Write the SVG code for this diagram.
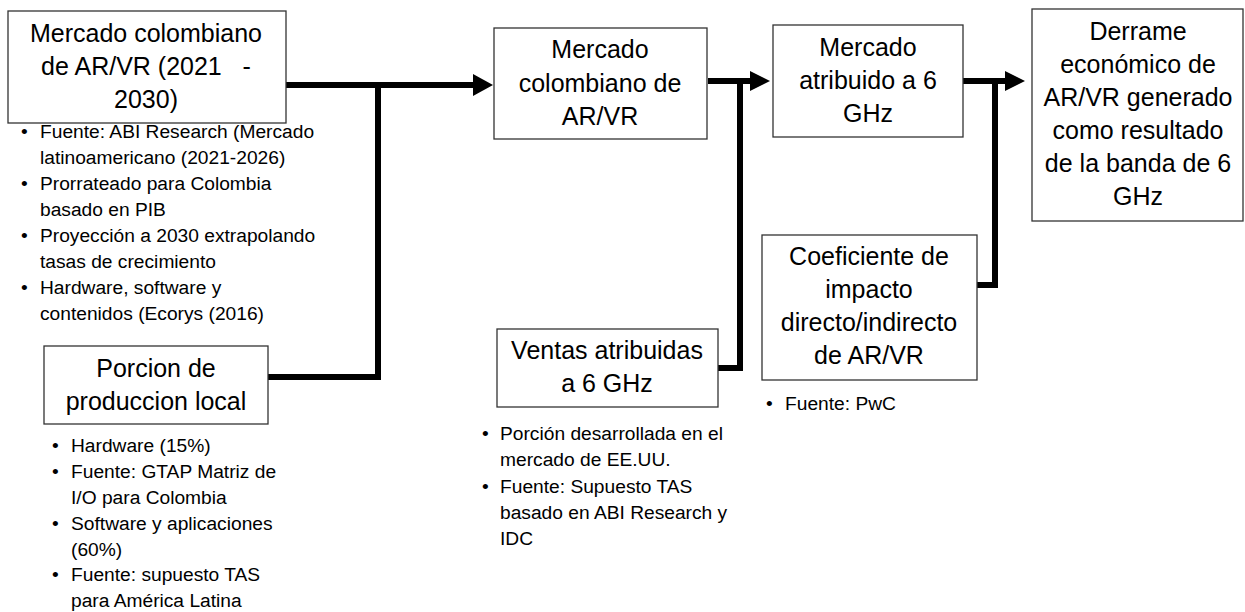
<svg xmlns="http://www.w3.org/2000/svg" width="1245" height="612" viewBox="0 0 1245 612">
<style>
.box{fill:#fff;stroke:#333;stroke-width:1.3}
.t{font-family:"Liberation Sans",Arial,sans-serif;font-size:25px;fill:#000;text-anchor:middle}
.b{font-family:"Liberation Sans",Arial,sans-serif;font-size:19.2px;fill:#000}
.c{fill:none;stroke:#000;stroke-width:6;stroke-linejoin:miter}
.h{fill:#000}
</style>
<rect width="1245" height="612" fill="#fff"/>
<g id="connectors">
<path class="c" d="M286 85H475"/>
<path class="c" d="M268 377H378V85"/>
<polygon class="h" points="473,74 493,85 473,96"/>
<path class="c" d="M708 81H752"/>
<path class="c" d="M718 368H740V81"/>
<polygon class="h" points="750,71 770,81 750,91"/>
<path class="c" d="M963 81H1007"/>
<path class="c" d="M977 285H995V81"/>
<polygon class="h" points="1005,71 1025,81 1005,91"/>
</g>
<g id="n1">
<rect class="box" x="8" y="11" width="278" height="112"/>
<text class="t" x="146" y="42">Mercado colombiano</text>
<text class="t" x="146" y="75">de AR/VR (2021&#160;&#160;&#160;-</text>
<text class="t" x="146" y="108">2030)</text>
<g class="b">
<text x="21" y="138">•</text><text x="40" y="138">Fuente: ABI Research (Mercado</text>
<text x="40" y="164">latinoamericano (2021-2026)</text>
<text x="21" y="190">•</text><text x="40" y="190">Prorrateado para Colombia</text>
<text x="40" y="216">basado en PIB</text>
<text x="21" y="242">•</text><text x="40" y="242">Proyección a 2030 extrapolando</text>
<text x="40" y="268">tasas de crecimiento</text>
<text x="21" y="294">•</text><text x="40" y="294">Hardware, software y</text>
<text x="40" y="320">contenidos (Ecorys (2016)</text>
</g>
</g>
<g id="n2">
<rect class="box" x="44" y="346" width="224" height="78"/>
<text class="t" x="156" y="377">Porcion de</text>
<text class="t" x="156" y="410">produccion local</text>
<g class="b">
<text x="52" y="452">•</text><text x="71" y="452">Hardware (15%)</text>
<text x="52" y="478">•</text><text x="71" y="478">Fuente: GTAP Matriz de</text>
<text x="71" y="504">I/O para Colombia</text>
<text x="52" y="530">•</text><text x="71" y="530">Software y aplicaciones</text>
<text x="71" y="556">(60%)</text>
<text x="52" y="581">•</text><text x="71" y="581">Fuente: supuesto TAS</text>
<text x="71" y="607">para América Latina</text>
</g>
</g>
<g id="n3">
<rect class="box" x="494" y="28" width="213" height="111"/>
<text class="t" x="600" y="58">Mercado</text>
<text class="t" x="600" y="92">colombiano de</text>
<text class="t" x="600" y="125">AR/VR</text>
</g>
<g id="n4">
<rect class="box" x="497" y="329" width="221" height="78"/>
<text class="t" x="607" y="359">Ventas atribuidas</text>
<text class="t" x="607" y="392">a 6 GHz</text>
<g class="b">
<text x="482" y="440">•</text><text x="500" y="440">Porción desarrollada en el</text>
<text x="500" y="466">mercado de EE.UU.</text>
<text x="482" y="493">•</text><text x="500" y="493">Fuente: Supuesto TAS</text>
<text x="500" y="519">basado en ABI Research y</text>
<text x="500" y="545">IDC</text>
</g>
</g>
<g id="n5">
<rect class="box" x="773" y="25" width="190" height="112"/>
<text class="t" x="868" y="56">Mercado</text>
<text class="t" x="868" y="89">atribuido a 6</text>
<text class="t" x="868" y="122">GHz</text>
</g>
<g id="n6">
<rect class="box" x="762" y="235" width="215" height="145"/>
<text class="t" x="869" y="265">Coeficiente de</text>
<text class="t" x="869" y="298">impacto</text>
<text class="t" x="869" y="331">directo/indirecto</text>
<text class="t" x="869" y="364">de AR/VR</text>
<g class="b">
<text x="766" y="410">•</text><text x="785" y="410">Fuente: PwC</text>
</g>
</g>
<g id="n7">
<rect class="box" x="1032" y="9" width="211" height="212"/>
<text class="t" x="1138" y="40">Derrame</text>
<text class="t" x="1138" y="73">económico de</text>
<text class="t" x="1138" y="106">AR/VR generado</text>
<text class="t" x="1138" y="139">como resultado</text>
<text class="t" x="1138" y="172">de la banda de 6</text>
<text class="t" x="1138" y="205">GHz</text>
</g>
</svg>
